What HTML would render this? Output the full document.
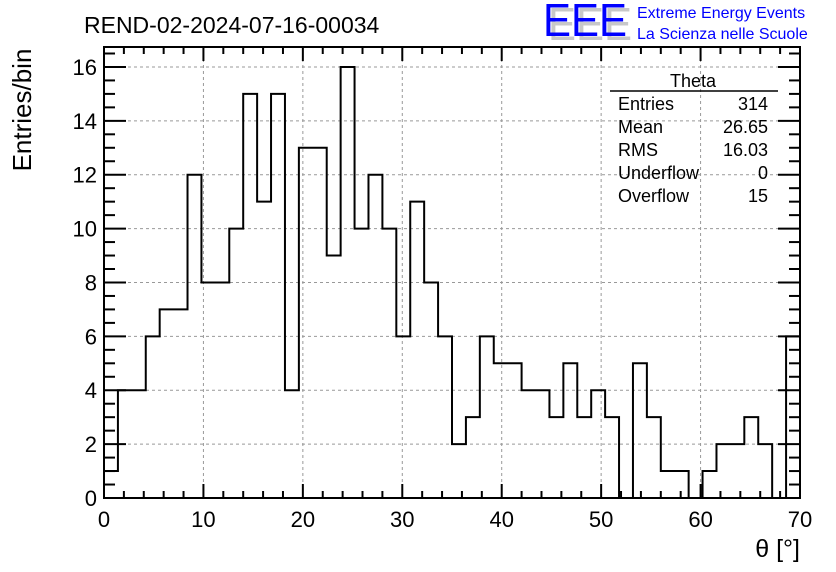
<!DOCTYPE html>
<html><head><meta charset="utf-8"><style>
body{margin:0;background:#fff;}
svg{display:block;font-family:"Liberation Sans",sans-serif;}
</style></head><body>
<svg id="chart" width="836" height="572" viewBox="0 0 836 572">
<g id="grid"></g>
<g id="hist"></g>
<g id="axes"></g>
<text x="84" y="33" font-size="23">REND-02-2024-07-16-00034</text>
<g>
<text x="548" y="40" font-size="46" fill="#c8c8c8" textLength="84" lengthAdjust="spacingAndGlyphs">EEE</text>
<text x="543" y="36" font-size="46" fill="#0000ff" textLength="84" lengthAdjust="spacingAndGlyphs">EEE</text>
<text x="637" y="18" font-size="16" fill="#0000ff">Extreme Energy Events</text>
<text x="637" y="39" font-size="16" fill="#0000ff">La Scienza nelle Scuole</text>
</g>
<g font-size="18">
<text x="693" y="87" text-anchor="middle">Theta</text>
<line x1="610" y1="91" x2="778" y2="91" stroke="#000" stroke-width="1.5"/>
<text x="618" y="110">Entries</text><text x="768" y="110" text-anchor="end">314</text>
<text x="618" y="133">Mean</text><text x="768" y="133" text-anchor="end">26.65</text>
<text x="618" y="156">RMS</text><text x="768" y="156" text-anchor="end">16.03</text>
<text x="618" y="179">Underflow</text><text x="768" y="179" text-anchor="end">0</text>
<text x="618" y="202">Overflow</text><text x="768" y="202" text-anchor="end">15</text>
</g>
<text transform="translate(31,110) rotate(-90)" font-size="26" text-anchor="middle">Entries/bin</text>
<text x="800" y="557" font-size="25" text-anchor="end">θ [°]</text>
</svg>
<script>
const binWidth = 1.4;
const counts = [1,4,4,6,7,7,12,8,8,10,15,11,15,4,13,13,9,16,10,12,10,6,11,8,6,
                2,3,6,5,5,4,4,3,5,3,4,3,0,5,3,1,1,0,1,2,2,3,2,0,6];
const xTicks = [0,10,20,30,40,50,60,70];
const yTicks = [0,2,4,6,8,10,12,14,16];
const X0=104,X1=800,Y0=498,YT=47,XMAX=70,YMAX=(498-47)/26.94;
const sx=v=>X0+(X1-X0)*v/XMAX;
const sy=v=>Y0-(Y0-YT)*v/YMAX;
const NS='http://www.w3.org/2000/svg';
function mk(tag,attrs,parent){const e=document.createElementNS(NS,tag);for(const k in attrs)e.setAttribute(k,attrs[k]);parent.appendChild(e);return e;}
const grid=document.getElementById('grid'),axes=document.getElementById('axes'),hist=document.getElementById('hist');
xTicks.forEach(t=>{if(t>0&&t<XMAX){const l=mk('line',{x1:sx(t),x2:sx(t),y1:YT,y2:Y0,stroke:'#999','stroke-dasharray':'3,3','stroke-width':1},grid);

}});
yTicks.forEach(t=>{if(t>0){const l=mk('line',{x1:X0,x2:X1,y1:sy(t),y2:sy(t),stroke:'#999','stroke-dasharray':'3,3','stroke-width':1},grid);

}});
let d='M'+sx(0)+','+sy(0);
counts.forEach((c,i)=>{d+=' L'+sx(i*binWidth)+','+sy(c)+' L'+sx((i+1)*binWidth)+','+sy(c);});
d+=' L'+sx(counts.length*binWidth)+','+sy(0);
const p=mk('path',{d:d,fill:'none',stroke:'#000','stroke-width':2},hist);


const fr=mk('rect',{x:X0,y:YT,width:X1-X0,height:Y0-YT,fill:'none',stroke:'#000','stroke-width':2},axes);


for(let v=0;v<=XMAX;v+=2){const maj=v%10===0;const L=maj?14:7;
mk('line',{x1:sx(v),x2:sx(v),y1:Y0,y2:Y0-L,stroke:'#000','stroke-width':2},axes);
mk('line',{x1:sx(v),x2:sx(v),y1:YT,y2:YT+L,stroke:'#000','stroke-width':2},axes);}
for(let v=0;v<=YMAX;v+=0.5){const maj=v%2===0;const L=maj?22:11;
mk('line',{x1:X0,x2:X0+L,y1:sy(v),y2:sy(v),stroke:'#000','stroke-width':2},axes);
mk('line',{x1:X1,x2:X1-L,y1:sy(v),y2:sy(v),stroke:'#000','stroke-width':2},axes);}
xTicks.forEach(t=>{const e=mk('text',{x:sx(t),y:Y0+29,'font-size':22,'text-anchor':'middle'},axes);e.textContent=t;

});
yTicks.forEach(t=>{const e=mk('text',{x:X0-7,y:sy(t)+8,'font-size':22,'text-anchor':'end'},axes);e.textContent=t;

});
</script>
</body></html>
